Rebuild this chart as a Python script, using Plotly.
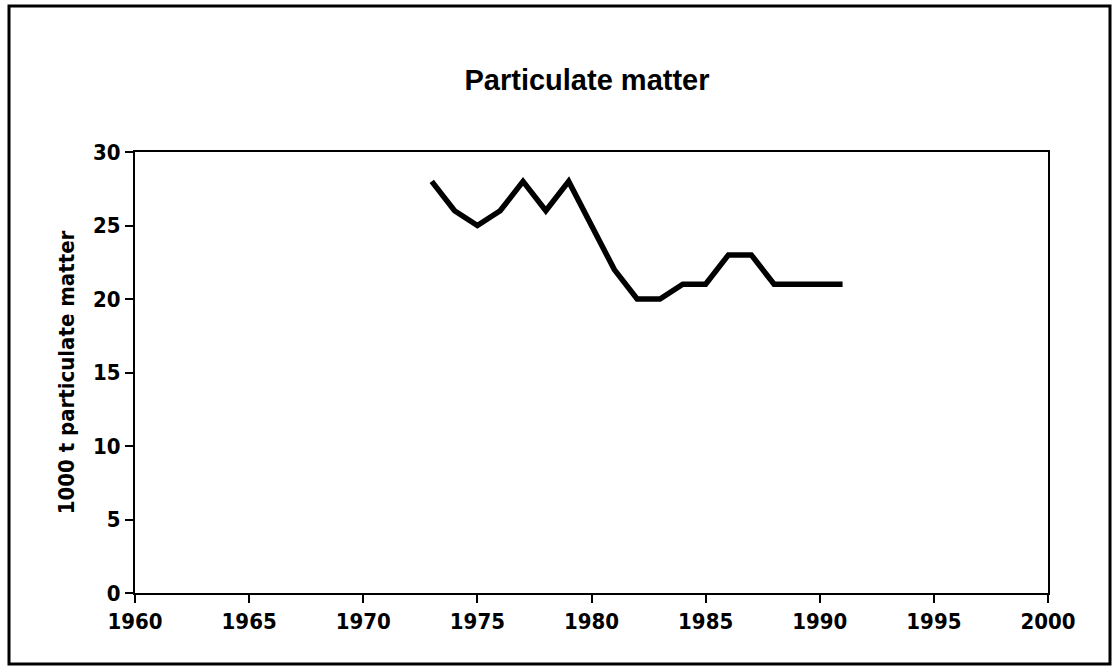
import plotly.graph_objects as go

years = [1973, 1974, 1975, 1976, 1977, 1978, 1979, 1980, 1981, 1982,
         1983, 1984, 1985, 1986, 1987, 1988, 1989, 1990, 1991]
values = [28, 26, 25, 26, 28, 26, 28, 25, 22, 20,
          20, 21, 21, 23, 23, 21, 21, 21, 21]
x_ticks = [1960, 1965, 1970, 1975, 1980, 1985, 1990, 1995, 2000]
y_ticks = [0, 5, 10, 15, 20, 25, 30]

L, R, T, B = 135, 71, 152, 77
W, H = 1119, 670
pw, ph = W - L - R, H - T - B

def px(x):
    return (x - L) / pw

def py(y):
    return (H - B - y) / ph

fig = go.Figure()
fig.add_trace(go.Scatter(x=years, y=values, mode="lines",
                         line=dict(color="black", width=5.5), showlegend=False))

tickfont = dict(family="DejaVu Sans Condensed, DejaVu Sans", size=22,
                color="black", weight="bold")
fig.update_layout(
    width=W, height=H,
    margin=dict(l=L, r=R, t=T, b=B),
    paper_bgcolor="white", plot_bgcolor="white",
    title=dict(text="<b>Particulate matter</b>", xref="container", x=587 / W,
               xanchor="center", yref="container", y=(H - 80) / H, yanchor="middle",
               font=dict(family="Liberation Sans, Arial", size=29, color="black")),
    xaxis=dict(range=[1960, 2000], tickvals=x_ticks, ticks="outside", ticklen=8,
               tickwidth=2, tickcolor="black", showline=True, linecolor="black",
               linewidth=2, mirror=True, showgrid=False, zeroline=False,
               tickfont=tickfont),
    yaxis=dict(range=[0, 30], tickvals=y_ticks, ticks="outside", ticklen=8,
               tickwidth=2, tickcolor="black", showline=True, linecolor="black",
               linewidth=2, mirror=True, showgrid=False, zeroline=False,
               tickfont=tickfont,
               title=dict(text="<b>1000 t particulate matter</b>", standoff=12,
                          font=dict(family="DejaVu Sans Condensed, DejaVu Sans",
                                    size=22, color="black"))),
)

fig.add_shape(type="rect", xref="paper", yref="paper",
              x0=px(9), x1=px(1110), y0=py(664), y1=py(6),
              line=dict(color="black", width=3), fillcolor="rgba(0,0,0,0)")

fig.write_html("out.html", config={"displayModeBar": False},
               post_script="document.body.style.margin='0';document.body.style.overflow='hidden';")
